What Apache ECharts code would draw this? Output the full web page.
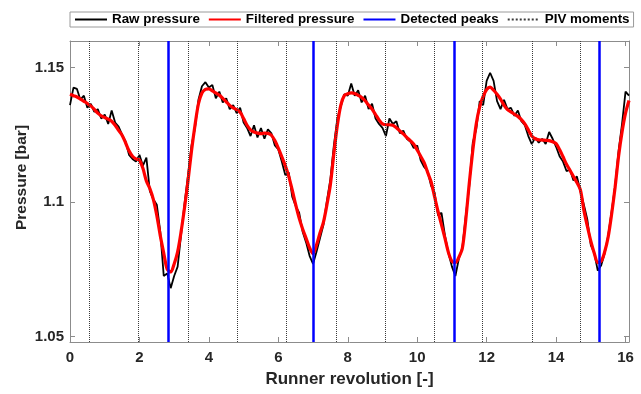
<!DOCTYPE html>
<html>
<head>
<meta charset="utf-8">
<script src="https://cdn.jsdelivr.net/npm/echarts@6/dist/echarts.min.js"></script>
<style>
  html, body { margin: 0; padding: 0; background: #ffffff; }
  #chart { width: 641px; height: 394px; }
</style>
</head>
<body>
<div id="chart"></div>
<script>
// Sampling step of the stored pressure signals, in runner revolutions
const sampleStep = 0.1;

// Raw pressure signal [bar], one value per sample (0.0 ... 16.1)
const rawPressure = [
  1.1360, 1.1425, 1.1420, 1.1380, 1.1395, 1.1350, 1.1365, 1.1335, 1.1345, 1.1310,
  1.1325, 1.1290, 1.1340, 1.1295, 1.1280, 1.1250, 1.1225, 1.1175, 1.1160, 1.1150,
  1.1175, 1.1135, 1.1165, 1.1040, 1.1010, 1.0990, 1.0890, 1.0725, 1.0735, 1.0680,
  1.0725, 1.0760, 1.0880, 1.0995, 1.1100, 1.1210, 1.1275, 1.1380, 1.1430, 1.1445,
  1.1425, 1.1435, 1.1385, 1.1410, 1.1370, 1.1385, 1.1345, 1.1360, 1.1330, 1.1350,
  1.1295, 1.1275, 1.1245, 1.1285, 1.1240, 1.1275, 1.1235, 1.1270, 1.1255, 1.1210,
  1.1195, 1.1150, 1.1100, 1.1110, 1.1020, 1.0985, 1.0960, 1.0890, 1.0850, 1.0800,
  1.0770, 1.0815, 1.0865, 1.0915, 1.1005, 1.1085, 1.1210, 1.1310, 1.1355, 1.1400,
  1.1395, 1.1440, 1.1395, 1.1415, 1.1370, 1.1395, 1.1345, 1.1365, 1.1310, 1.1290,
  1.1275, 1.1245, 1.1310, 1.1290, 1.1300, 1.1255, 1.1265, 1.1235, 1.1225, 1.1200,
  1.1210, 1.1155, 1.1130, 1.1115, 1.1060, 1.1035, 1.0950, 1.0960, 1.0875, 1.0810,
  1.0760, 1.0725, 1.0790, 1.0830, 1.0950, 1.1060, 1.1220, 1.1270, 1.1375, 1.1360,
  1.1450, 1.1480, 1.1450, 1.1375, 1.1345, 1.1380, 1.1345, 1.1350, 1.1320, 1.1340,
  1.1300, 1.1285, 1.1245, 1.1215, 1.1240, 1.1220, 1.1235, 1.1215, 1.1260, 1.1235,
  1.1205, 1.1170, 1.1150, 1.1115, 1.1120, 1.1080, 1.1095, 1.1040, 1.0990, 1.0935,
  1.0840, 1.0810, 1.0745, 1.0765, 1.0810, 1.0875, 1.0965, 1.1060, 1.1190, 1.1290,
  1.1410, 1.1395
];

// Low-pass filtered pressure [bar], same sampling
const filteredPressure = [
  1.1400, 1.1395, 1.1390, 1.1382, 1.1374, 1.1366, 1.1357, 1.1344, 1.1330, 1.1320,
  1.1314, 1.1308, 1.1300, 1.1285, 1.1266, 1.1248, 1.1220, 1.1190, 1.1170, 1.1160,
  1.1155, 1.1125, 1.1078, 1.1050, 1.1010, 1.0950, 1.0875, 1.0810, 1.0750, 1.0740,
  1.0770, 1.0815, 1.0890, 1.0980, 1.1080, 1.1190, 1.1285, 1.1365, 1.1405, 1.1418,
  1.1420, 1.1413, 1.1405, 1.1397, 1.1385, 1.1372, 1.1359, 1.1350, 1.1343, 1.1333,
  1.1310, 1.1285, 1.1268, 1.1260, 1.1256, 1.1254, 1.1256, 1.1255, 1.1248, 1.1228,
  1.1200, 1.1168, 1.1135, 1.1095, 1.1045, 1.0990, 1.0940, 1.0900, 1.0865, 1.0830,
  1.0808, 1.0840, 1.0885, 1.0925, 1.0990, 1.1065, 1.1180, 1.1285, 1.1360, 1.1395,
  1.1402, 1.1405, 1.1403, 1.1396, 1.1388, 1.1376, 1.1360, 1.1345, 1.1325, 1.1305,
  1.1290, 1.1287, 1.1287, 1.1285, 1.1276, 1.1264, 1.1253, 1.1240, 1.1228, 1.1215,
  1.1193, 1.1170, 1.1146, 1.1110, 1.1075, 1.1020, 1.0965, 1.0915, 1.0865, 1.0812,
  1.0780, 1.0775, 1.0795, 1.0828, 1.0935, 1.1070, 1.1190, 1.1290, 1.1353, 1.1392,
  1.1418, 1.1427, 1.1415, 1.1400, 1.1382, 1.1360, 1.1343, 1.1335, 1.1326, 1.1318,
  1.1306, 1.1290, 1.1268, 1.1245, 1.1235, 1.1231, 1.1230, 1.1229, 1.1228, 1.1224,
  1.1217, 1.1195, 1.1168, 1.1140, 1.1118, 1.1095, 1.1072, 1.1045, 1.0970, 1.0910,
  1.0855, 1.0810, 1.0775, 1.0780, 1.0815, 1.0870, 1.0955, 1.1055, 1.1170, 1.1260,
  1.1330, 1.1377
];

// Pressure minima found by the peak detector [runner revolutions]
const detectedPeaks = [2.84, 7.01, 11.07, 15.23];

// Instants at which PIV images were taken [runner revolutions]
const pivMoments = [0.56, 1.98, 3.40, 4.82, 6.24, 7.66, 9.07, 10.48, 11.88, 13.30, 14.71];

// Axis ticks
const xTicks = [0, 2, 4, 6, 8, 10, 12, 14, 16];
const yTicks = [1.05, 1.1, 1.15];

const seriesNames = ['Raw pressure', 'Filtered pressure', 'Detected peaks', 'PIV moments'];

const sampleTimes = rawPressure.map((_, i) => +(i * sampleStep).toFixed(2));
const rawData = sampleTimes.map((t, i) => [t, rawPressure[i]]);
const filteredData = sampleTimes.map((t, i) => [t, filteredPressure[i]]);

const FONT = 'Liberation Sans, Arial, sans-serif';
const frameColor = '#8c8c8c';
const labelColor = '#262626';

const frameLine = { show: true, onZero: false, lineStyle: { color: frameColor, width: 1 } };

function xAxisDef(position, withLabels) {
  return {
    type: 'value', position, min: 0, max: 16.1,
    axisLine: frameLine,
    axisTick: { show: true, inside: true, length: 5, customValues: xTicks, lineStyle: { color: frameColor } },
    axisLabel: withLabels
      ? { show: true, customValues: xTicks, margin: 8, fontSize: 15, fontWeight: 'bold', color: labelColor, fontFamily: FONT }
      : { show: false },
    splitLine: { show: false },
    name: withLabels ? 'Runner revolution [-]' : '',
    nameLocation: 'middle', nameGap: 29, nameMoveOverlap: false,
    nameTextStyle: { fontSize: 17, fontWeight: 'bold', color: labelColor, fontFamily: FONT }
  };
}

function yAxisDef(position, withLabels) {
  return {
    type: 'value', position, min: 1.048, max: 1.1598,
    axisLine: frameLine,
    axisTick: { show: true, inside: true, length: 5, customValues: yTicks, lineStyle: { color: frameColor } },
    axisLabel: withLabels
      ? { show: true, customValues: yTicks, margin: 6, fontSize: 15, fontWeight: 'bold', color: labelColor, fontFamily: FONT }
      : { show: false },
    splitLine: { show: false },
    name: withLabels ? 'Pressure [bar]' : '',
    nameLocation: 'middle', nameGap: 40, nameMoveOverlap: false,
    // the title sits a little above the middle of the axis
    nameTextStyle: { fontSize: 15.5, fontWeight: 'bold', color: labelColor, fontFamily: FONT, padding: [0, 0, 0, 28] }
  };
}

function verticalLines(positions, style) {
  return {
    silent: true,
    symbol: ['none', 'none'],
    label: { show: false },
    emphasis: { disabled: true },
    animation: false,
    lineStyle: style,
    data: positions.map(v => ({ xAxis: v }))
  };
}

const peakStyle = { color: '#0000ff', width: 2.5, type: 'solid' };
const pivStyle = { color: '#3a3a3a', width: 1, type: 'dotted' };

const chart = echarts.init(document.getElementById('chart'), null, { renderer: 'canvas' });
chart.setOption({
  animation: false,
  backgroundColor: '#ffffff',
  grid: { left: 70, right: 12, top: 41, bottom: 52, containLabel: false },
  legend: {
    data: seriesNames,
    left: 70, top: 12,
    orient: 'horizontal',
    itemWidth: 32, itemHeight: 12, itemGap: 8,
    padding: [1, 4, 1, 4],
    borderColor: '#9a9a9a', borderWidth: 1,
    selectedMode: false,
    // line samples only, no marker in the middle
    itemStyle: { opacity: 0 },
    textStyle: { fontSize: 13.4, fontWeight: 'bold', color: '#000000', fontFamily: FONT }
  },
  xAxis: [xAxisDef('bottom', true), xAxisDef('top', false)],
  yAxis: [yAxisDef('left', true), yAxisDef('right', false)],
  series: [
    {
      name: seriesNames[0], type: 'line', data: rawData,
      symbol: 'none', smooth: false, z: 2, silent: true,
      lineStyle: { color: '#000000', width: 1.8 },
      itemStyle: { color: '#000000' }
    },
    {
      name: seriesNames[1], type: 'line', data: filteredData,
      symbol: 'none', smooth: 0.3, z: 3, silent: true,
      lineStyle: { color: '#ff0000', width: 3.2 },
      itemStyle: { color: '#ff0000' }
    },
    {
      name: seriesNames[2], type: 'line', data: [],
      symbol: 'none', z: 4,
      lineStyle: peakStyle, itemStyle: { color: '#0000ff' },
      markLine: verticalLines(detectedPeaks, peakStyle)
    },
    {
      name: seriesNames[3], type: 'line', data: [],
      symbol: 'none', z: 5,
      lineStyle: pivStyle, itemStyle: { color: '#3a3a3a' },
      markLine: verticalLines(pivMoments, pivStyle)
    }
  ]
});
</script>
</body>
</html>
